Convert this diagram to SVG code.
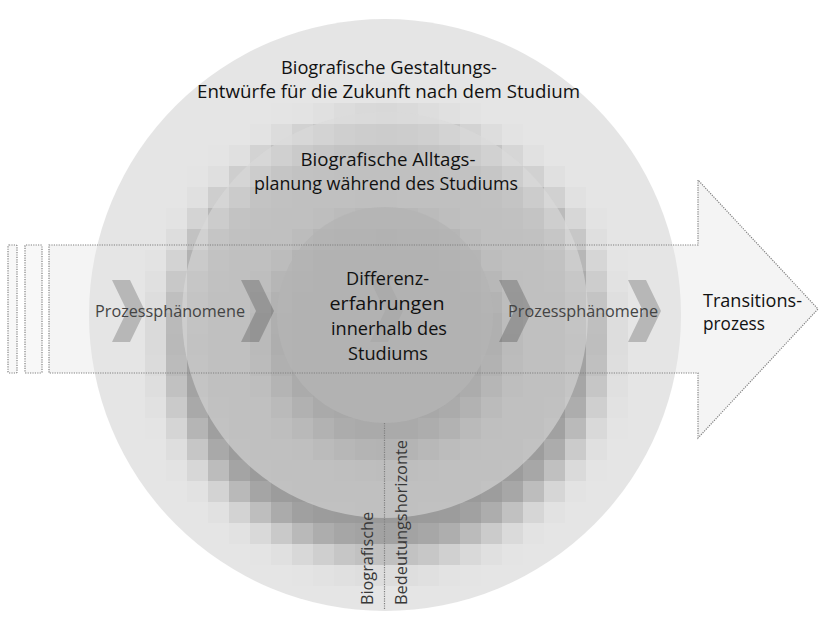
<svg xmlns="http://www.w3.org/2000/svg" width="819" height="629" viewBox="0 0 819 629">
<style>
  .dot { fill: none; stroke: #808080; stroke-width: 1.2; stroke-dasharray: 1.2 1.2; }
  .head { font-family: "Open Sans", "Liberation Sans", sans-serif; font-size: 18px; fill: #111; }
  .proc { font-family: "Open Sans", "Liberation Sans", sans-serif; font-size: 16.5px; fill: #444; }
  .vert { font-family: "Open Sans", "Liberation Sans", sans-serif; font-size: 16px; fill: #383838; }
  .chev { fill: #000; fill-opacity: 0.2; }
</style>
<defs>
  <filter id="pix" filterUnits="userSpaceOnUse" primitiveUnits="userSpaceOnUse" x="-2" y="-2" width="840" height="651" color-interpolation-filters="sRGB">
    <feGaussianBlur in="SourceGraphic" stdDeviation="17" result="b"/>
    <feFlood x="8" y="8" width="1" height="1" flood-color="#000" flood-opacity="1"/>
    <feComposite x="-2" y="-2" width="21" height="21"/>
    <feTile result="a"/>
    <feComposite in="b" in2="a" operator="in"/>
    <feMorphology operator="dilate" radius="10"/>
  </filter>
  <clipPath id="outerClip">
    <circle cx="385" cy="315" r="296"/>
  </clipPath>
</defs>
<rect width="819" height="629" fill="#fff"/>

<g id="arrow-fill">
  <rect x="8" y="245" width="9" height="128" rx="1" fill="#f8f8f8"/>
  <rect x="25" y="245" width="17" height="128" rx="1" fill="#f8f8f8"/>
  <path d="M49,245 H698 V180 L818,309 L698,438 V373 H49 Z" fill="#f4f4f4"/>
</g>

<g id="outer-circle" clip-path="url(#outerClip)">
  <g filter="url(#pix)">
    <rect x="-2" y="-2" width="840" height="651" fill="#e5e5e5"/>
    <circle cx="385" cy="342" r="213" fill="#9a9a9a"/>
    <circle cx="385" cy="338" r="115" fill="#5c5c5c"/>
  </g>
</g>

<g id="middle-circle">
  <circle cx="385" cy="315" r="203" fill="#dadada" fill-opacity="0.6"/>
</g>

<g id="chevrons">
  <polygon class="chev" points="112,280 130,280 145,311 130,342 112,342 127,311"/>
  <polygon class="chev" points="241,280 259,280 274,311 259,342 241,342 256,311"/>
  <polygon class="chev" points="370,280 388,280 403,311 388,342 370,342 385,311"/>
  <polygon class="chev" points="499,280 517,280 532,311 517,342 499,342 514,311"/>
  <polygon class="chev" points="628,280 646,280 661,311 646,342 628,342 643,311"/>
</g>

<g id="inner-circle">
  <circle cx="385" cy="315" r="108" fill="#b4b4b4" fill-opacity="0.8"/>
</g>

<g id="arrow-outline">
  <rect class="dot" x="8" y="245" width="9" height="128" rx="1"/>
  <rect class="dot" x="25" y="245" width="17" height="128" rx="1"/>
  <path class="dot" d="M49,245 H698 V180 L818,309 L698,438 V373 H49 Z"/>
</g>

<g id="connectors">
  <line class="dot" x1="384.5" y1="423" x2="384.5" y2="609"/>
</g>

<g id="labels">
  <text class="head" x="389" y="74" text-anchor="middle" textLength="216" lengthAdjust="spacingAndGlyphs">Biografische Gestaltungs-</text>
  <text class="head" x="388.5" y="97.5" text-anchor="middle" textLength="383" lengthAdjust="spacingAndGlyphs">Entwürfe für die Zukunft nach dem Studium</text>
  <text class="head" x="388" y="166" text-anchor="middle" textLength="175" lengthAdjust="spacingAndGlyphs">Biografische Alltags-</text>
  <text class="head" x="386" y="190" text-anchor="middle" textLength="264" lengthAdjust="spacingAndGlyphs">planung während des Studiums</text>
  <text class="head" x="387.5" y="285" text-anchor="middle" textLength="83" lengthAdjust="spacingAndGlyphs">Differenz-</text>
  <text class="head" x="387" y="310" text-anchor="middle" textLength="115" lengthAdjust="spacingAndGlyphs">erfahrungen</text>
  <text class="head" x="389" y="335" text-anchor="middle" textLength="116" lengthAdjust="spacingAndGlyphs">innerhalb des</text>
  <text class="head" x="388" y="360" text-anchor="middle" textLength="80" lengthAdjust="spacingAndGlyphs">Studiums</text>
  <text class="proc" x="95" y="317" textLength="150" lengthAdjust="spacingAndGlyphs">Prozessphänomene</text>
  <text class="proc" x="508" y="317" textLength="150" lengthAdjust="spacingAndGlyphs">Prozessphänomene</text>
  <text class="head" x="703" y="307" textLength="99" lengthAdjust="spacingAndGlyphs">Transitions-</text>
  <text class="head" x="703" y="330" textLength="62" lengthAdjust="spacingAndGlyphs">prozess</text>
  <text class="vert" transform="translate(373,605) rotate(-90)" x="0" y="0" textLength="93" lengthAdjust="spacingAndGlyphs">Biografische</text>
  <text class="vert" transform="translate(407,605) rotate(-90)" x="0" y="0" textLength="165" lengthAdjust="spacingAndGlyphs">Bedeutungshorizonte</text>
</g>
</svg>
